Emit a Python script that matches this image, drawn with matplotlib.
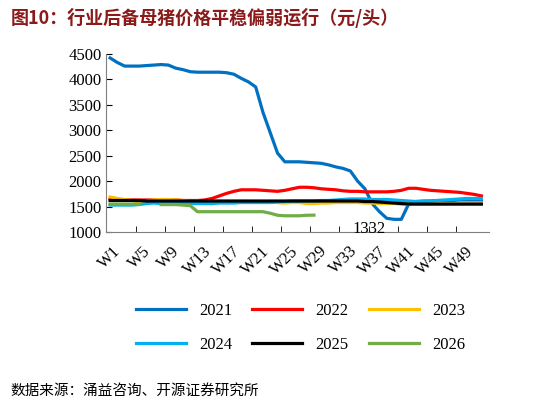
import matplotlib
matplotlib.use('Agg')
import matplotlib.pyplot as plt
import numpy as np

plt.rcParams['font.family'] = ['Liberation Serif', 'Noto Sans CJK SC']

weeks = [f'W{i}' for i in range(1, 53)]
tick_labels = [f'W{i}' for i in range(1, 53, 4)]

p2021 = [4420, 4330, 4260, 4260, 4260, 4270, 4280, 4290, 4280, 4220, 4190, 4150, 4140, 4140,
         4140, 4140, 4130, 4100, 4020, 3950, 3850, 3350, 2950, 2550, 2380, 2380, 2380, 2370,
         2360, 2350, 2320, 2280, 2250, 2200, 2000, 1850, 1560, 1400, 1270, 1250, 1250, 1550,
         1600, 1610, 1610, 1620, 1620, 1620, 1630, 1630, 1630, 1630]
p2022 = [1650, 1640, 1630, 1630, 1630, 1630, 1630, 1630, 1630, 1630, 1620, 1620, 1620, 1630,
         1660, 1710, 1760, 1800, 1830, 1830, 1830, 1820, 1810, 1800, 1820, 1850, 1880, 1880,
         1870, 1850, 1840, 1830, 1810, 1800, 1800, 1790, 1790, 1790, 1790, 1800, 1820, 1860,
         1860, 1840, 1820, 1810, 1800, 1790, 1780, 1760, 1740, 1710]
p2023 = [1690, 1660, 1640, 1620, 1580, 1610, 1630, 1640, 1640, 1630, 1620, 1610, 1610, 1600,
         1600, 1600, 1600, 1600, 1600, 1600, 1590, 1590, 1590, 1580, 1570, 1580, 1580, 1560,
         1560, 1570, 1570, 1580, 1580, 1580, 1580, 1570, 1570, 1560, 1560, 1560, 1550, 1550,
         1550, 1550, 1550, 1550, 1550, 1550, 1550, 1550, 1550, 1550]
p2024 = [1530, 1530, 1530, 1530, 1540, 1560, 1570, 1560, 1560, 1560, 1560, 1560, 1560, 1560,
         1560, 1570, 1570, 1570, 1580, 1580, 1580, 1580, 1580, 1590, 1600, 1610, 1610, 1610,
         1610, 1620, 1620, 1630, 1640, 1650, 1650, 1650, 1640, 1640, 1640, 1630, 1620, 1610,
         1600, 1600, 1610, 1620, 1630, 1640, 1650, 1660, 1660, 1660]
p2025 = [1620, 1620, 1620, 1620, 1620, 1610, 1610, 1610, 1610, 1610, 1610, 1610, 1610, 1610,
         1610, 1610, 1610, 1610, 1610, 1610, 1610, 1610, 1610, 1610, 1610, 1610, 1610, 1610,
         1610, 1610, 1610, 1610, 1610, 1610, 1610, 1600, 1600, 1590, 1580, 1570, 1560, 1550,
         1550, 1550, 1550, 1550, 1550, 1550, 1550, 1550, 1550, 1550]
p2026 = [1550, 1550, 1550, 1550, 1550, np.nan, np.nan, 1540, 1540, 1540, 1530, 1520, 1400, 1400,
         1400, 1400, 1400, 1400, 1400, 1400, 1400, 1400, 1370, 1330, 1320, 1320, 1320, 1330,
         1332]

series = [('2021', p2021, '#0070C0'), ('2022', p2022, '#FF0000'), ('2023', p2023, '#FFC000'),
          ('2024', p2024, '#00B0F0'), ('2025', p2025, '#000000'), ('2026', p2026, '#70AD47')]

fig = plt.figure(figsize=(5.46, 4.05), dpi=100)
ax = fig.add_axes([0.195, 0.427, 0.70, 0.44])

handles = []
for name, vals, color in series:
    h, = ax.plot(np.arange(len(vals)), vals, color=color, lw=2.3, label=name)
    handles.append(h)

ax.annotate('1332', (28, 1332), xytext=(28, -10), textcoords='offset points',
            fontsize=12, va='center')

ax.set_xlim(-0.5, 52)
ax.set_ylim(1000, 4500)
ax.set_yticks(range(1000, 4501, 500))
ax.set_xticks(np.arange(0, 52, 4) - 0.5, minor=True)
ax.set_xticks(np.arange(0, 52, 4))
ax.set_xticklabels(tick_labels, rotation=45, fontsize=12)
ax.tick_params(axis='x', which='major', length=0, pad=8)
ax.tick_params(axis='x', which='minor', length=4, direction='in')
ax.tick_params(axis='y', labelsize=12, direction='in', length=4)
for s in ['top', 'right']:
    ax.spines[s].set_visible(False)
for s in ['left', 'bottom']:
    ax.spines[s].set_color('#7f7f7f')

# legend filled row by row: 2021 2022 2023 / 2024 2025 2026
order = [0, 3, 1, 4, 2, 5]
fig.legend([handles[i] for i in order], [series[i][0] for i in order],
           loc='center', bbox_to_anchor=(0.55, 0.19), ncol=3, frameon=False,
           fontsize=12, handlelength=3.0, columnspacing=1.2, labelspacing=1.1)

fig.text(0.02, 0.955, '图10：行业后备母猪价格平稳偏弱运行（元/头）', fontsize=13,
         fontweight='bold', color='#8B1A1A', va='center',
         family=['Noto Sans CJK SC'])
fig.text(0.02, 0.035, '数据来源：涌益咨询、开源证券研究所', fontsize=10.5,
         va='center', family=['Noto Sans CJK SC'])

fig.savefig('out.png', dpi=100)
